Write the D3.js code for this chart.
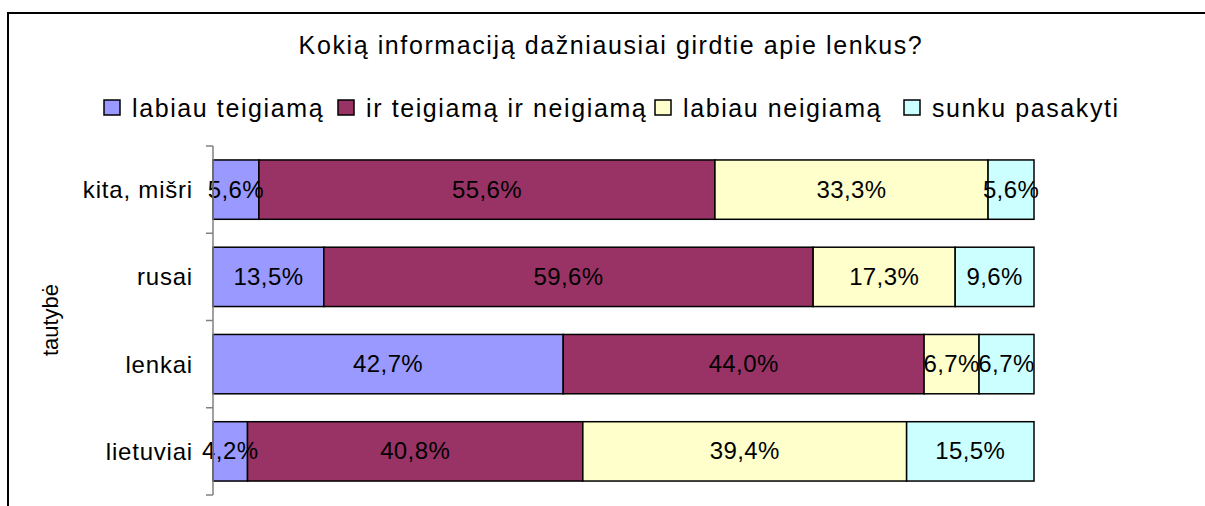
<!DOCTYPE html>
<html>
<head>
<meta charset="utf-8">
<script src="https://cdn.jsdelivr.net/npm/d3@7"></script>
<style>
  body { margin: 0; background: #fff; }
  text { font-family: "Liberation Sans", Arial, sans-serif; }
</style>
</head>
<body>
<div id="chart"></div>
<script>
var title = "Kokią informaciją dažniausiai girdtie apie lenkus?";
var axisTitle = "tautybė";
var categories = ["kita, mišri", "rusai", "lenkai", "lietuviai"];
var seriesNames = ["labiau teigiamą", "ir teigiamą ir neigiamą", "labiau neigiamą", "sunku pasakyti"];
var colors = ["#9999FF", "#993366", "#FFFFCC", "#CCFFFF"];
// values per series, in category order
var teigiama = [5.6, 13.5, 42.7, 4.2];
var abu = [55.6, 59.6, 44.0, 40.8];
var neigiama = [33.3, 17.3, 6.7, 39.4];
var sunku = [5.6, 9.6, 6.7, 15.5];
var series = [teigiama, abu, neigiama, sunku];

var width = 1205, height = 506;

var svg = d3.select("#chart").append("svg")
  .attr("width", width)
  .attr("height", height);

// chart frame
svg.append("rect")
  .attr("x", 8)
  .attr("y", 13)
  .attr("width", 1220)
  .attr("height", 520)
  .attr("fill", "none")
  .attr("stroke", "#000")
  .attr("stroke-width", 2);

svg.append("text")
  .attr("x", 611)
  .attr("y", 54)
  .attr("text-anchor", "middle")
  .style("font-size", "25px")
  .style("letter-spacing", "1.6px")
  .text(title);

var y = d3.scaleBand()
  .domain(categories)
  .range([146, 495])
  .paddingInner(0.32)
  .paddingOuter(0.16);

var x = d3.scaleLinear()
  .domain([0, 100])
  .range([213, 1034]);

// build stacked rows, normalised to 100%
var rows = categories.map(function (c, i) {
  var vals = series.map(function (s) { return s[i]; });
  var total = d3.sum(vals);
  var acc = 0;
  return vals.map(function (v, j) {
    var seg = { cat: c, k: j, v: v, x0: acc / total * 100 };
    acc += v;
    seg.x1 = acc / total * 100;
    return seg;
  });
});

var g = svg.append("g");

g.selectAll(".row")
  .data(rows)
  .enter().append("g")
  .attr("class", "row")
  .selectAll("rect")
  .data(function (d) { return d; })
  .enter().append("rect")
  .attr("x", function (d) { return x(d.x0); })
  .attr("y", function (d) { return y(d.cat); })
  .attr("width", function (d) { return x(d.x1) - x(d.x0); })
  .attr("height", y.bandwidth())
  .attr("fill", function (d) { return colors[d.k]; })
  .attr("stroke", "#000")
  .attr("stroke-width", 1.5);

var segs = [].concat.apply([], rows);
g.selectAll(".bartext")
  .data(segs)
  .enter().append("text")
  .attr("class", "bartext")
  .attr("text-anchor", "middle")
  .attr("x", function (d) { return (x(d.x0) + x(d.x1)) / 2; })
  .attr("y", function (d) { return y(d.cat) + y.bandwidth() / 2 + 8; })
  .style("font-size", "24px")
  .style("letter-spacing", "0.4px")
  .attr("fill", "#000")
  .text(function (d) { return d.v.toFixed(1).replace(".", ",") + "%"; });

// y axis
var yAxis = d3.axisLeft(y).tickSize(0).tickPadding(20);
var ax = svg.append("g")
  .attr("transform", "translate(213,0)")
  .call(yAxis);
ax.select(".domain").remove();
ax.selectAll("text")
  .style("font-size", "24px")
  .style("letter-spacing", "0.8px")
  .attr("fill", "#000")
  .attr("dy", "0.35em");

svg.append("line")
  .attr("x1", 213).attr("x2", 213)
  .attr("y1", y.range()[0]).attr("y2", y.range()[1])
  .attr("stroke", "#808080")
  .attr("stroke-width", 1.5);

svg.selectAll(".tick-line")
  .data(d3.range(categories.length + 1))
  .enter().append("line")
  .attr("class", "tick-line")
  .attr("x1", 206).attr("x2", 213)
  .attr("y1", function (i) { return y.range()[0] + i * y.step(); })
  .attr("y2", function (i) { return y.range()[0] + i * y.step(); })
  .attr("stroke", "#808080")
  .attr("stroke-width", 1.5);

svg.append("text")
  .attr("transform", "translate(58,320) rotate(-90)")
  .attr("text-anchor", "middle")
  .style("font-size", "22px")
  .text(axisTitle);

// legend
var legendX = [104, 338, 655, 904];
var legend = svg.selectAll(".legend")
  .data(seriesNames)
  .enter().append("g")
  .attr("class", "legend")
  .attr("transform", function (d, i) { return "translate(" + legendX[i] + ",100)"; });

legend.append("rect")
  .attr("width", 16)
  .attr("height", 15)
  .attr("fill", function (d, i) { return colors[i]; })
  .attr("stroke", "#000")
  .attr("stroke-width", 1.5);

legend.append("text")
  .attr("x", 28)
  .attr("y", 17)
  .style("font-size", "25px")
  .style("letter-spacing", "1.6px")
  .text(function (d) { return d; });
</script>
</body>
</html>
